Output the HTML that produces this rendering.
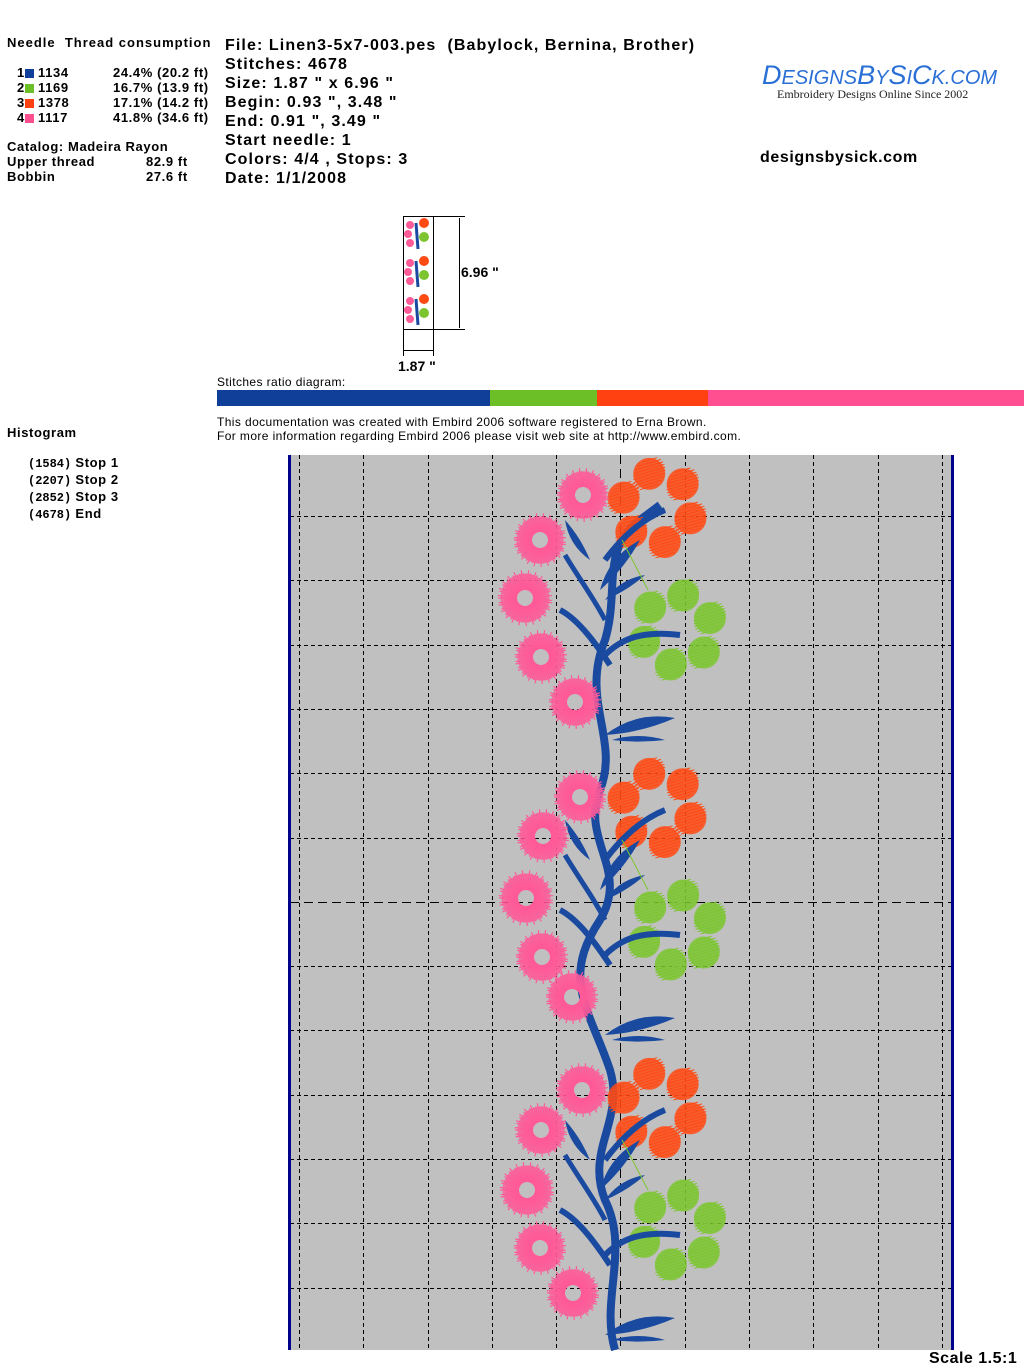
<!DOCTYPE html>
<html><head><meta charset="utf-8"><style>
body{margin:0;width:1024px;height:1370px;background:#fff;position:relative;font-family:"Liberation Sans",Arial,sans-serif;overflow:hidden}
.a{position:absolute;white-space:pre}
.b{font-weight:bold}
.s13{font-size:13px;letter-spacing:0.6px}
.h{font-size:16px;font-weight:bold;line-height:19px;letter-spacing:1.1px}
.sq{display:inline-block;width:9px;height:9px;vertical-align:-1px}
.t12{font-size:12px;letter-spacing:0.4px}
</style></head><body>
<div class="a b s13" style="left:7px;top:35px;letter-spacing:1px">Needle  Thread consumption</div>
<div class="a b s13" style="left:17px;top:65px;line-height:15px">1<span class="sq" style="background:#0f3f99"></span> 1134<br>2<span class="sq" style="background:#6cbf26"></span> 1169<br>3<span class="sq" style="background:#ff4010"></span> 1378<br>4<span class="sq" style="background:#ff4f90"></span> 1117</div>
<div class="a b s13" style="left:113px;top:65px;line-height:15px">24.4% (20.2 ft)<br>16.7% (13.9 ft)<br>17.1% (14.2 ft)<br>41.8% (34.6 ft)</div>
<div class="a b s13" style="left:7px;top:139px;line-height:15px">Catalog: Madeira Rayon<br>Upper thread<br>Bobbin</div>
<div class="a b s13" style="left:146px;top:154px;line-height:15px">82.9 ft<br>27.6 ft</div>
<div class="a h" style="left:225px;top:36px">File: Linen3-5x7-003.pes  (Babylock, Bernina, Brother)<br>Stitches: 4678<br>Size: 1.87 " x 6.96 "<br>Begin: 0.93 ", 3.48 "<br>End: 0.91 ", 3.49 "<br>Start needle: 1<br>Colors: 4/4 , Stops: 3<br>Date: 1/1/2008</div>
<div class="a" style="left:762px;top:60px;font-size:27px;color:#2a6fd6;font-style:italic;font-family:'Liberation Sans',sans-serif">D<span style="font-size:20px">ESIGNS</span>B<span style="font-size:20px">Y</span>S<span style="font-size:20px">I</span>C<span style="font-size:20px">K.COM</span></div>
<div class="a" style="left:777px;top:87px;font-size:12px;font-family:'Liberation Serif',serif;color:#222">Embroidery Designs Online Since 2002</div>
<div class="a h" style="left:760px;top:148px;letter-spacing:0.6px">designsbysick.com</div>
<div class="a t12" style="left:217px;top:375px">Stitches ratio diagram:</div>
<div class="a" style="left:217px;top:390px;width:273px;height:16px;background:#0f3f99"></div>
<div class="a" style="left:490px;top:390px;width:107px;height:16px;background:#6cbf26"></div>
<div class="a" style="left:597px;top:390px;width:111px;height:16px;background:#ff4010"></div>
<div class="a" style="left:708px;top:390px;width:316px;height:16px;background:#ff4f90"></div>
<div class="a t12" style="left:217px;top:415px;line-height:14px">This documentation was created with Embird 2006 software registered to Erna Brown.<br>For more information regarding Embird 2006 please visit web site at http://www.embird.com.</div>
<div class="a b s13" style="left:7px;top:425px">Histogram</div>
<div class="a b s13" style="left:28px;top:455px;line-height:15px"><span style="font-family:'Liberation Mono',monospace;font-size:12px;letter-spacing:0">(1584)</span> Stop 1<br><span style="font-family:'Liberation Mono',monospace;font-size:12px;letter-spacing:0">(2207)</span> Stop 2<br><span style="font-family:'Liberation Mono',monospace;font-size:12px;letter-spacing:0">(2852)</span> Stop 3<br><span style="font-family:'Liberation Mono',monospace;font-size:12px;letter-spacing:0">(4678)</span> End</div>
<div class="a b" style="left:929px;top:1350px;font-size:16px;letter-spacing:0.5px">Scale 1.5:1</div>
<div class="a" style="left:461px;top:264px;font-size:14px;font-weight:bold">6.96 "</div>
<div class="a" style="left:398px;top:358px;font-size:14px;font-weight:bold">1.87 "</div>
<svg class="a" style="left:0;top:0" width="1024" height="1370" id="sv">
<g stroke="#000" stroke-width="1" fill="none">
<rect x="403.5" y="216.5" width="30" height="113"/>
<line x1="433" y1="216.5" x2="465" y2="216.5"/><line x1="433" y1="329.5" x2="465" y2="329.5"/>
<line x1="459.5" y1="218" x2="459.5" y2="328"/>
<line x1="403.5" y1="330" x2="403.5" y2="356"/><line x1="433.5" y1="330" x2="433.5" y2="356"/>
<line x1="404" y1="350.5" x2="433" y2="350.5"/>
</g>
<rect x="290" y="455" width="663" height="895" fill="#c0c0c0"/>
<g id="grid" stroke="#000" stroke-width="1" stroke-dasharray="4,3"></g>
<line x1="290" y1="902.5" x2="953" y2="902.5" stroke="#000" stroke-dasharray="9,5"/>
<line x1="620.5" y1="455" x2="620.5" y2="1350" stroke="#000" stroke-dasharray="9,5"/>
<rect x="288" y="455" width="3" height="895" fill="#00008b"/>
<rect x="951" y="455" width="3" height="895" fill="#00008b"/>
<g id="emb"></g>
<g id="mini"></g>
</svg>
<script>
var g=document.getElementById('grid'),h='';
[299,363,428,492,556,685,749,813,878,942].forEach(function(x){h+='<line x1="'+(x+.5)+'" y1="455" x2="'+(x+.5)+'" y2="1350"/>'});
[516,580,645,709,773,838,966,1030,1095,1159,1223,1288].forEach(function(y){h+='<line x1="290" y1="'+(y+.5)+'" x2="951" y2="'+(y+.5)+'"/>'});
g.innerHTML=h;
var B='#1a4aa0',G='#7cc530',O='#ff4a14',P='#ff5a98';
function pink(cx,cy,r){var o='<circle cx="'+cx+'" cy="'+cy+'" r="'+(r*0.6)+'" fill="none" stroke="'+P+'" stroke-width="'+(r*0.55)+'" opacity="0.75"/>';for(var i=0;i<70;i++){var a=i/70*6.283,r1=8,r2=r*(0.75+0.25*Math.abs(Math.sin(i*7.3)));o+='<line x1="'+(cx+Math.cos(a)*r1)+'" y1="'+(cy+Math.sin(a)*r1)+'" x2="'+(cx+Math.cos(a)*r2)+'" y2="'+(cy+Math.sin(a)*r2)+'" stroke="'+P+'" stroke-width="1.2"/>';}
return o;}
function fl(cx,cy,c,rot){var o='';for(var i=0;i<6;i++){var a=rot+i/6*6.283,px=cx+Math.cos(a)*35,py=cy+Math.sin(a)*35;o+='<circle cx="'+px+'" cy="'+py+'" r="16" fill="'+c+'" opacity="0.85"/>';for(var k=-14;k<=14;k+=3){var w=Math.sqrt(256-k*k);o+='<line x1="'+(px-w)+'" y1="'+(py+k+w*0.3)+'" x2="'+(px+w)+'" y2="'+(py+k-w*0.3)+'" stroke="'+c+'" stroke-width="1"/>';}}return o;}
function leaf(x1,y1,x2,y2,w){var mx=(x1+x2)/2,my=(y1+y2)/2,dx=y2-y1,dy=x1-x2,l=Math.hypot(dx,dy);dx*=w/l;dy*=w/l;return '<path d="M'+x1+','+y1+' Q'+(mx+dx)+','+(my+dy)+' '+x2+','+y2+' Q'+(mx-dx*0.4)+','+(my-dy*0.4)+' '+x1+','+y1+'Z" fill="'+B+'"/>';}
function br(d,w){return '<path d="'+d+'" fill="none" stroke="'+B+'" stroke-width="'+w+'"/>';}
var e='';
e+=br("M615,1350 C600,1300 630,1250 605,1200 C585,1150 625,1120 610,1070 C590,1010 560,980 600,920 C630,870 580,840 600,790 C620,740 580,700 605,640 C620,590 600,550 640,520 L660,505",8);
[0,300,600].forEach(function(d){
 e+=fl(657,508+d,O,0.3);
 e+=fl(677,630+d,G,0.7);
 e+=br('M560,'+(610+d)+' C580,'+(620+d)+' 600,'+(650+d)+' 610,'+(665+d),6);
 e+=br('M605,'+(655+d)+' C620,'+(640+d)+' 640,'+(630+d)+' 680,'+(635+d),6);
 e+=br('M565,'+(555+d)+' C580,'+(580+d)+' 595,'+(600+d)+' 605,'+(620+d),5);
 e+=br('M605,'+(560+d)+' C620,'+(540+d)+' 640,'+(520+d)+' 665,'+(510+d),6);
 e+=leaf(600,590+d,640,540+d,14);
 e+=leaf(605,600+d,645,575+d,10);
 e+=leaf(605,735+d,675,718+d,16);
 e+=leaf(612,740+d,665,740+d,8);
 e+=leaf(590,560+d,565,520+d,10);
});
var pk=[[583,495,27],[540,540,27],[525,598,28],[541,657,27],[575,702,27],[580,797,27],[543,836,27],[526,898,28],[542,957,27],[572,997,27],[582,1090,27],[541,1130,27],[527,1190,28],[540,1248,27],[573,1293,27]];
pk.forEach(function(p){e+=pink(p[0],p[1],p[2]);});
[0,300,600].forEach(function(d){e+='<line x1="622" y1="'+(540+d)+'" x2="648" y2="'+(590+d)+'" stroke="'+G+'"/>';});
document.getElementById('emb').innerHTML=e;
var m='';
[0,1,2].forEach(function(k){var y=219+k*38;m+='<circle cx="424" cy="'+(y+4)+'" r="5" fill="'+O+'"/><circle cx="424" cy="'+(y+18)+'" r="5" fill="'+G+'"/><circle cx="410" cy="'+(y+6)+'" r="4" fill="'+P+'"/><circle cx="408" cy="'+(y+15)+'" r="4" fill="'+P+'"/><circle cx="410" cy="'+(y+24)+'" r="4" fill="'+P+'"/><path d="M416,'+(y+4)+' L418,'+(y+30)+'" stroke="'+B+'" stroke-width="3"/>';});
document.getElementById('mini').innerHTML=m;
</script>
</body></html>
